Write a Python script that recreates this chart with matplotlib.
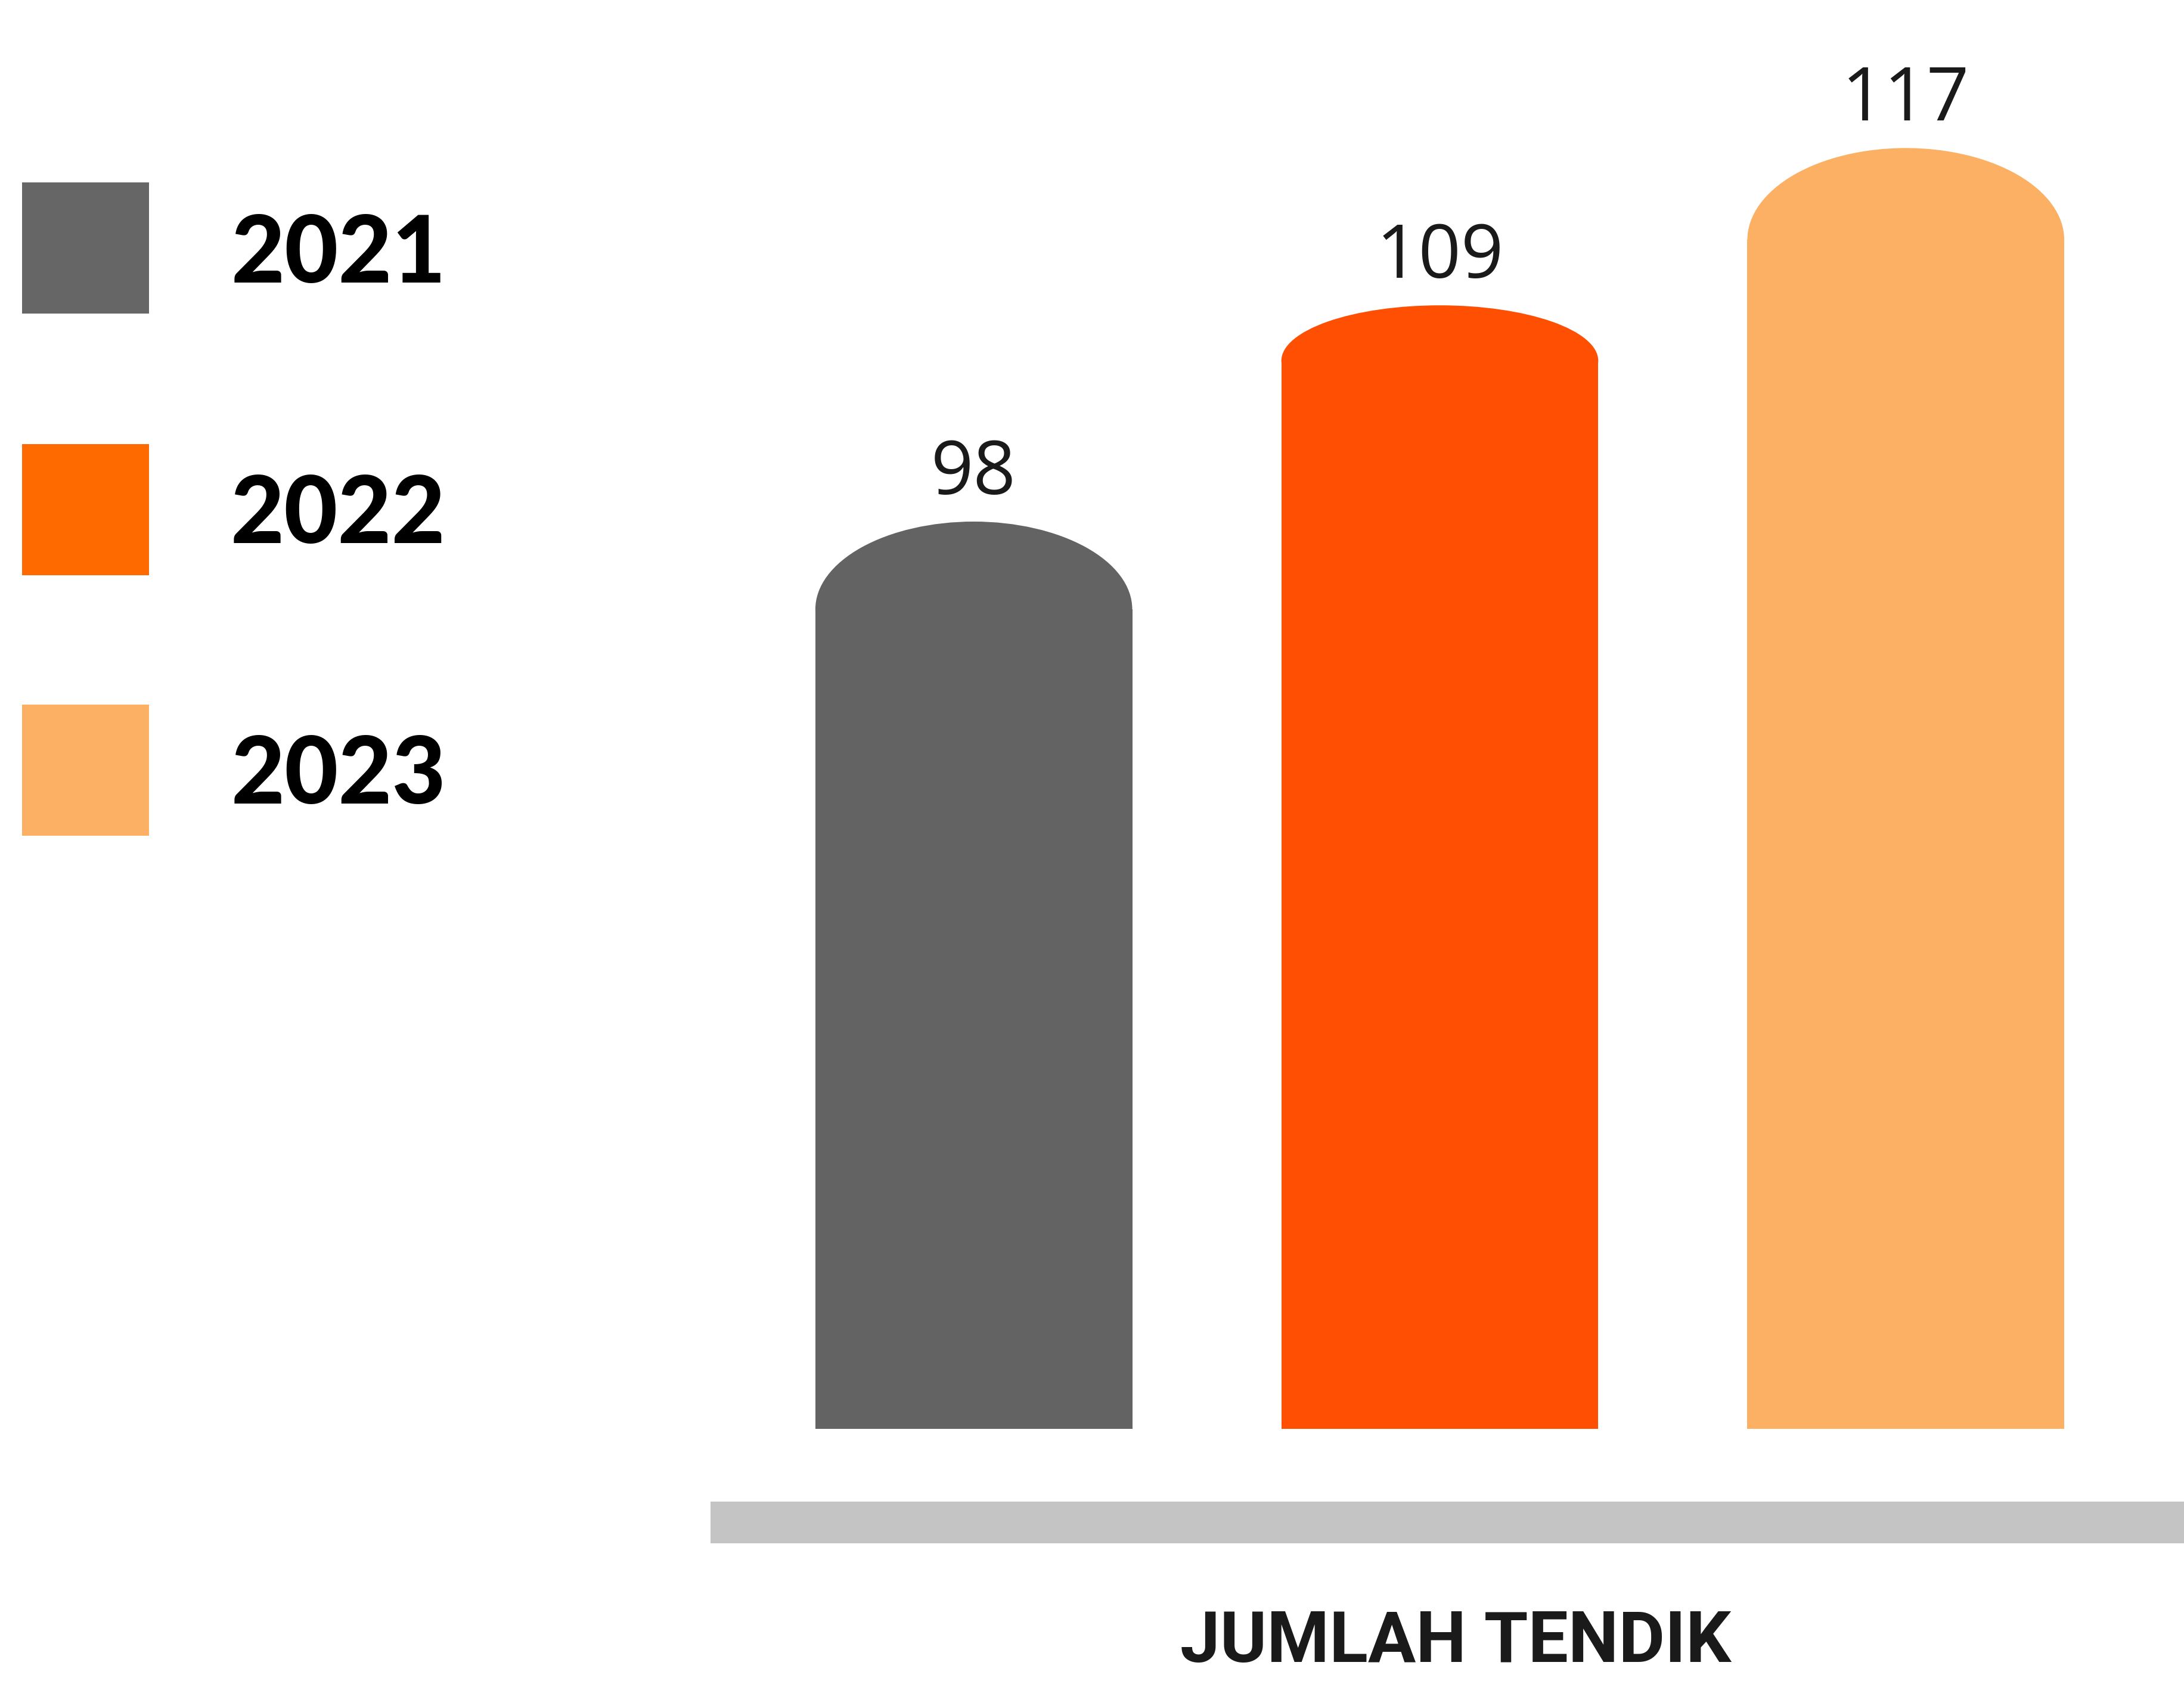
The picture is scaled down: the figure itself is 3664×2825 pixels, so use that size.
import numpy as np
import matplotlib.pyplot as plt
from matplotlib.patches import Ellipse, Rectangle

plt.rcParams.update({
    "font.family": ["Open Sans", "DejaVu Sans"],
})

# data
years = ["2021", "2022", "2023"]
values = [98, 109, 117]
category = "JUMLAH TENDIK"

bar_colors = ["#636363", "#ff4f03", "#fbb063"]
legend_colors = ["#666666", "#ff6a00", "#fbb063"]
cap_px = [147, 93, 154]   # height of the rounded top, in pixels

W, H = 3664, 2825
fig = plt.figure(figsize=(W / 100, H / 100), dpi=100)

###
### Bars
###
px_per_unit = 32.98
y0 = 51.85
ax = fig.add_axes([1192 / W, 1 - 2397 / H, 1 - 1192 / W, 2397 / H])
ax.set_xlim(-0.565, 2.597)
ax.set_ylim(y0, y0 + 2397 / px_per_unit)
ax.axis("off")

x = np.arange(len(values))
width = 0.68
for i, v in enumerate(values):
    cap = cap_px[i] / px_per_unit
    ax.bar(x[i], v - cap, width=width, color=bar_colors[i], linewidth=0)
    ax.add_patch(Ellipse((x[i], v - cap), width, 2 * cap, color=bar_colors[i], linewidth=0))
    ax.text(x[i], v + 46 / px_per_unit, str(v), ha="center", va="baseline",
            fontsize=90, color="#1a1a1a")

###
### Base strip + label
###
fig.patches.append(Rectangle((1192 / W, 1 - 2589 / H), 1 - 1192 / W, 70 / H,
                             transform=fig.transFigure, color="#c4c4c4", linewidth=0))
fig.text(2442 / W, 1 - 2788 / H, category, ha="center", va="baseline",
         fontsize=86, fontweight="bold", color="#1a1a1a",
         family=["Roboto", "DejaVu Sans"])

###
### Legend
###
sq_tops = [306, 745, 1182]
baselines = [474, 911, 1348]
for i, yr in enumerate(years):
    fig.patches.append(Rectangle((37 / W, 1 - (sq_tops[i] + 220) / H), 213 / W, 220 / H,
                                 transform=fig.transFigure, color=legend_colors[i], linewidth=0))
    fig.text(748 / W, 1 - baselines[i] / H, yr, ha="right", va="baseline",
             fontsize=112, fontweight="black", color="black", family=["Lato", "DejaVu Sans"])

fig.savefig("out.png", dpi=100, facecolor="white")
